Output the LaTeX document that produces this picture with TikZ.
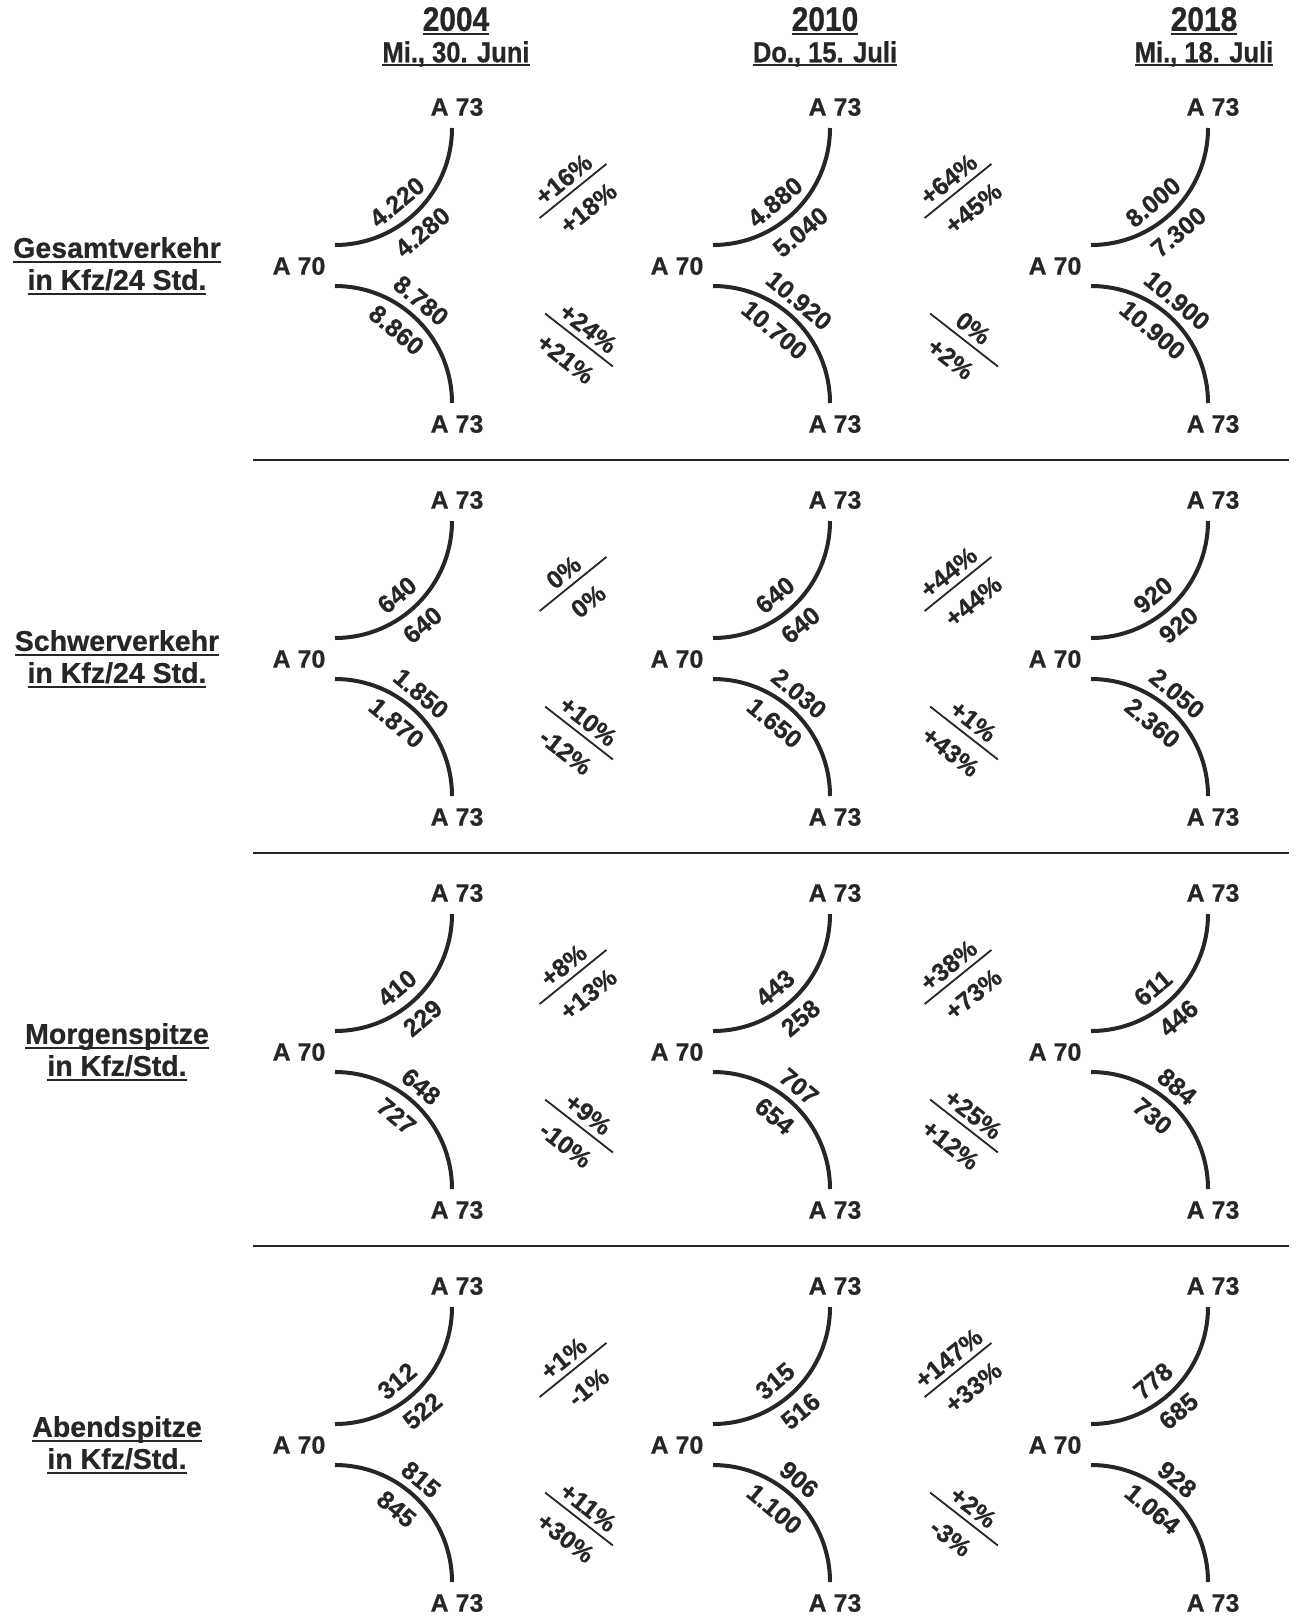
\documentclass[tikz,border=0pt]{standalone}
\usepackage{fontspec}
\setmainfont{Liberation Sans}[BoldFeatures={FakeBold=0.6}]
\newfontfamily\narrowfont{Liberation Sans}[FakeStretch=0.88,BoldFeatures={FakeBold=0.6}]
\definecolor{ink}{HTML}{262626}
\newcommand\ulx[2][5pt]{\setbox0\hbox{#2}\rlap{\rule[-#1]{\wd0}{1.9pt}}\box0}
\tikzset{
 lab/.style={font=\fontsize{25}{29}\selectfont\bfseries, text=ink, inner sep=0pt},
 num/.style={font=\fontsize{25}{29}\selectfont\bfseries, text=ink, inner sep=0pt},
 pct/.style={font=\fontsize{25}{29}\selectfont\bfseries, text=ink, inner sep=0pt},
 road/.style={draw=ink, line width=4pt},
 fracline/.style={draw=ink, line width=1.8pt},
 sepline/.style={draw=ink, line width=2pt},
 yearlab/.style={font=\narrowfont\fontsize{34}{38}\selectfont\bfseries, text=ink, inner sep=0pt},
 datelab/.style={font=\narrowfont\fontsize{29}{33}\selectfont\bfseries, text=ink, inner sep=0pt},
 rowlab/.style={font=\fontsize{28.5}{32}\selectfont\bfseries, text=ink, inner sep=0pt, align=center},
}
% #1 name, #2 x, #3 y, #4 upper-arc inner, #5 upper-arc outer, #6 lower-arc outer, #7 lower-arc inner
\newcommand\junction[7]{%
 \begin{scope}[shift={(#2,#3)}]
 \coordinate (#1-us) at (0,-20);
 \coordinate (#1-ls) at (0,21);
 \node[lab] (#1-n) at (122,-158) {A 73};
 \node[lab] (#1-s) at (122,159) {A 73};
 \node[lab] (#1-w) at (-36,1) {A 70};
 \draw[road] (#1-us) arc[start angle=90,end angle=0,radius=117];
 \draw[road] (#1-ls) arc[start angle=-90,end angle=0,radius=117];
 \node[num,rotate=40] (#1-a) at (62,-63) {#4};
 \node[num,rotate=40] (#1-b) at (87.5,-33) {#5};
 \node[num,rotate=-40] (#1-c) at (86,35.5) {#6};
 \node[num,rotate=-40] (#1-d) at (61.5,65) {#7};
 \end{scope}}
% #1 name, #2 x, #3 y, #4 angle, #5 upper text, #6 lower text
\newcommand\pctfrac[6]{%
 \begin{scope}[shift={(#2,#3)}, rotate=#4, transform shape]
 \coordinate (#1-a) at (-43,0);
 \coordinate (#1-b) at (43,0);
 \draw[fracline] (#1-a) -- (#1-b);
 \node[pct] (#1-t) at (0,-15) {#5};
 \node[pct] (#1-u) at (1,23) {#6};
 \end{scope}}
\begin{document}
\begin{tikzpicture}[x=1pt,y=-1pt]
\useasboundingbox[fill=white] (0,0) rectangle (1297,1617);
% headers
\node[yearlab] (y1) at (456,21) {\ulx[4pt]{2004}};
\node[datelab] (d1) at (456,54) {\ulx[4pt]{Mi., 30. Juni}};
\node[yearlab] (y2) at (825,21) {\ulx[4pt]{2010}};
\node[datelab] (d2) at (825,54) {\ulx[4pt]{Do., 15. Juli}};
\node[yearlab] (y3) at (1204,21) {\ulx[4pt]{2018}};
\node[datelab] (d3) at (1204,54) {\ulx[4pt]{Mi., 18. Juli}};
% row labels
\node[rowlab] (r1) at (117,266) {\ulx{Gesamtverkehr}\\\ulx{in Kfz/24 Std.}};
\node[rowlab] (r2) at (117,659) {\ulx{Schwerverkehr}\\\ulx{in Kfz/24 Std.}};
\node[rowlab] (r3) at (117,1052) {\ulx{Morgenspitze}\\\ulx{in Kfz/Std.}};
\node[rowlab] (r4) at (117,1445) {\ulx{Abendspitze}\\\ulx{in Kfz/Std.}};
% separators
\coordinate (s1a) at (253,460); \coordinate (s1b) at (1289,460);
\coordinate (s2a) at (253,853); \coordinate (s2b) at (1289,853);
\coordinate (s3a) at (253,1246); \coordinate (s3b) at (1289,1246);
\draw[sepline] (s1a) -- (s1b);
\draw[sepline] (s2a) -- (s2b);
\draw[sepline] (s3a) -- (s3b);
% row 1
\junction{j11}{335}{265}{4.220}{4.280}{8.780}{8.860}
\junction{j12}{713}{265}{4.880}{5.040}{10.920}{10.700}
\junction{j13}{1091}{265}{8.000}{7.300}{10.900}{10.900}
\pctfrac{f11u}{573}{191}{39}{+16\%}{+18\%}
\pctfrac{f11l}{579}{340}{-38}{+24\%}{+21\%}
\pctfrac{f12u}{958}{191}{39}{+64\%}{+45\%}
\pctfrac{f12l}{964}{340}{-38}{0\%}{+2\%}
% row 2
\junction{j21}{335}{658}{640}{640}{1.850}{1.870}
\junction{j22}{713}{658}{640}{640}{2.030}{1.650}
\junction{j23}{1091}{658}{920}{920}{2.050}{2.360}
\pctfrac{f21u}{573}{584}{39}{0\%}{0\%}
\pctfrac{f21l}{579}{733}{-38}{+10\%}{-12\%}
\pctfrac{f22u}{958}{584}{39}{+44\%}{+44\%}
\pctfrac{f22l}{964}{733}{-38}{+1\%}{+43\%}
% row 3
\junction{j31}{335}{1051}{410}{229}{648}{727}
\junction{j32}{713}{1051}{443}{258}{707}{654}
\junction{j33}{1091}{1051}{611}{446}{884}{730}
\pctfrac{f31u}{573}{977}{39}{+8\%}{+13\%}
\pctfrac{f31l}{579}{1126}{-38}{+9\%}{-10\%}
\pctfrac{f32u}{958}{977}{39}{+38\%}{+73\%}
\pctfrac{f32l}{964}{1126}{-38}{+25\%}{+12\%}
% row 4
\junction{j41}{335}{1444}{312}{522}{815}{845}
\junction{j42}{713}{1444}{315}{516}{906}{1.100}
\junction{j43}{1091}{1444}{778}{685}{928}{1.064}
\pctfrac{f41u}{573}{1370}{39}{+1\%}{-1\%}
\pctfrac{f41l}{579}{1519}{-38}{+11\%}{+30\%}
\pctfrac{f42u}{958}{1370}{39}{+147\%}{+33\%}
\pctfrac{f42l}{964}{1519}{-38}{+2\%}{-3\%}
\end{tikzpicture}
\end{document}
